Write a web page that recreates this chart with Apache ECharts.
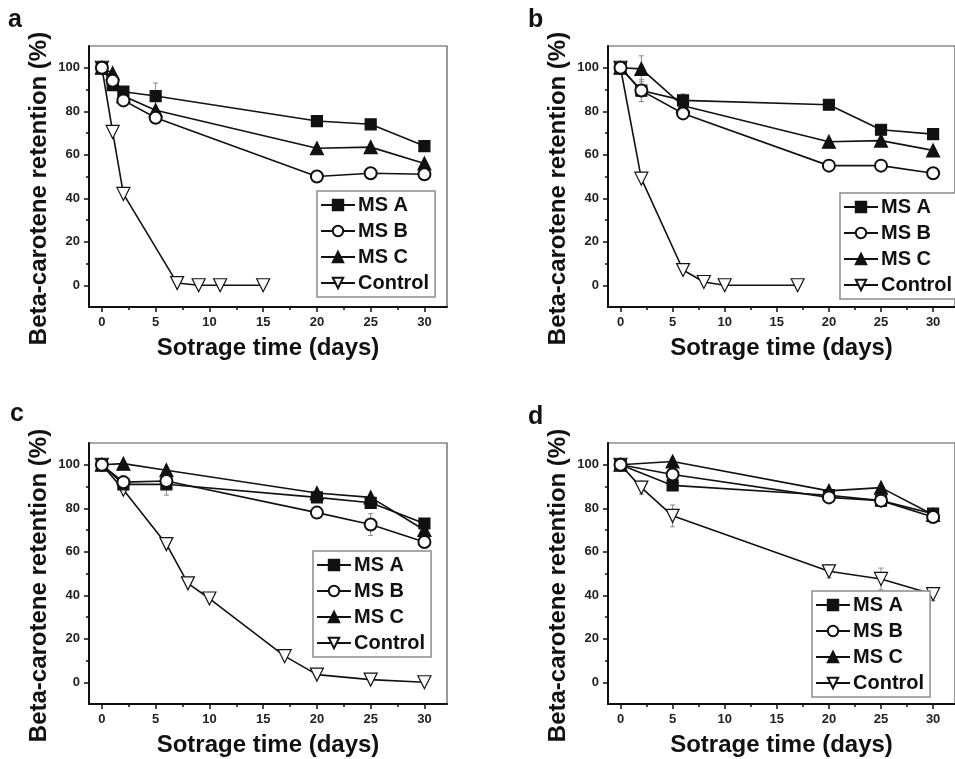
<!DOCTYPE html>
<html>
<head>
<meta charset="utf-8">
<script src="https://cdn.jsdelivr.net/npm/echarts@6/dist/echarts.min.js"></script>
<style>
  html, body { margin: 0; padding: 0; background: #fff; }
  #chart { width: 955px; height: 759px; }
</style>
</head>
<body>
<div id="chart"></div>
<script>
// ---- data ----
const seriesNames = ["MS A", "MS B", "MS C", "Control"];
const yTicks = [0, 20, 40, 60, 80, 100];
const yMinorTicks = [10, 30, 50, 70, 90];
const xTicks = [0, 5, 10, 15, 20, 25, 30];
const xMinorTicks = [2.5, 7.5, 12.5, 17.5, 22.5, 27.5];

// panel a
const aDaysMS = [0, 1, 2, 5, 20, 25, 30];
const aMSA = [100, 92, 89, 87, 75.5, 74, 64];
const aMSB = [100, 94, 85, 77, 50, 51.5, 51];
const aMSC = [100, 97.5, 87, 80.5, 63, 63.5, 56];
const aDaysCtrl = [0, 1, 2, 7, 9, 11, 15];
const aCtrl = [100, 70.5, 42, 1, 0, 0, 0];
const aErr = [[5, 87, 6]];

// panel b
const bDaysMS = [0, 2, 6, 20, 25, 30];
const bMSA = [100, 89.5, 85, 83, 71.5, 69.5];
const bMSB = [100, 89.5, 79, 55, 55, 51.5];
const bMSC = [100, 99.5, 82.5, 66, 66.5, 62];
const bDaysCtrl = [0, 2, 6, 8, 10, 17];
const bCtrl = [100, 49, 7, 1.5, 0, 0];
const bErr = [[2, 99.5, 6], [6, 85, 3], [2, 89.5, 5]];

// panel c
const cDaysMS = [0, 2, 6, 20, 25, 30];
const cMSA = [100, 91, 91, 85, 82.5, 73];
const cMSB = [100, 92, 92.5, 78, 72.5, 64.5];
const cMSC = [100, 100.5, 97.5, 87, 85, 70];
const cDaysCtrl = [0, 2, 6, 8, 10, 17, 20, 25, 30];
const cCtrl = [100, 88.5, 63.5, 45.5, 38.5, 12, 3.5, 1.2, 0];
const cErr = [[6, 91, 5], [25, 72.5, 5], [2, 92, 3]];

// panel d
const dDaysMS = [0, 5, 20, 25, 30];
const dMSA = [100, 90.5, 86, 83.5, 77.5];
const dMSB = [100, 95.5, 85, 83.5, 76];
const dMSC = [100, 101.5, 88, 89.5, 77];
const dDaysCtrl = [0, 2, 5, 20, 25, 30];
const dCtrl = [100, 89.5, 76.5, 51, 47.5, 40.5];
const dErr = [[2, 89.5, 3], [5, 76.5, 5], [20, 51, 3], [25, 47.5, 5], [30, 40.5, 3]];

const panels = [
  { letter: "a", days: aDaysMS, ms: [aMSA, aMSB, aMSC], ctrlDays: aDaysCtrl, ctrl: aCtrl, err: aErr },
  { letter: "b", days: bDaysMS, ms: [bMSA, bMSB, bMSC], ctrlDays: bDaysCtrl, ctrl: bCtrl, err: bErr },
  { letter: "c", days: cDaysMS, ms: [cMSA, cMSB, cMSC], ctrlDays: cDaysCtrl, ctrl: cCtrl, err: cErr },
  { letter: "d", days: dDaysMS, ms: [dMSA, dMSB, dMSC], ctrlDays: dDaysCtrl, ctrl: dCtrl, err: dErr },
];

// ---- layout ----
const FONT = "'Liberation Sans', Arial, sans-serif";
const grids = [
  { left: 89, right: 508, top: 46, bottom: 452 },
  { left: 608, right: -11, top: 46, bottom: 452 },
  { left: 89, right: 508, top: 443, bottom: 55 },
  { left: 608, right: -11, top: 443, bottom: 55 },
];
const legendPos = [
  { left: 317, top: 191 },
  { left: 840, top: 193 },
  { left: 313, top: 551 },
  { left: 812, top: 591 },
];
const letterPos = [[8, 8], [528, 8], [10, 402], [528, 405]];

// marker style per MS series, and the order they are stacked (A lowest, B on top)
const symbols = [
  { symbol: "rect", size: 11, z: 3 },
  { symbol: "emptyCircle", size: 12, z: 5 },
  { symbol: "triangle", size: 13, z: 4 },
];

const xAxes = [], yAxes = [], series = [], legends = [], graphics = [];

panels.forEach((p, i) => {
  const common = { gridIndex: i, min: -1.2, max: 32.1, type: "value" };
  xAxes.push({
    ...common, position: "bottom",
    name: "Sotrage time (days)", nameLocation: "middle", nameGap: 29,
    nameTextStyle: { fontFamily: FONT, fontSize: 24, fontWeight: "bold", color: "#111" },
    axisLine: { onZero: false, lineStyle: { color: "#111", width: 2 } },
    axisTick: { customValues: xTicks, length: 5, lineStyle: { color: "#111", width: 1.5 } },
    axisLabel: { customValues: xTicks, margin: 9, fontFamily: FONT, fontSize: 13, fontWeight: "bold", color: "#222" },
    splitLine: { show: false },
  });
  xAxes.push({
    ...common, position: "bottom",
    axisLine: { show: false, onZero: false },
    axisTick: { customValues: xMinorTicks, length: 3, lineStyle: { color: "#111", width: 1.5 } },
    axisLabel: { show: false },
    splitLine: { show: false },
  });
  const ycommon = { gridIndex: i, min: -10, max: 110, type: "value" };
  yAxes.push({
    ...ycommon, position: "left",
    name: "Beta-carotene retention (%)", nameLocation: "middle", nameGap: 38,
    nameTextStyle: { fontFamily: FONT, fontSize: 24, fontWeight: "bold", color: "#111", padding: [0, 24, 0, 0] },
    axisLine: { onZero: false, lineStyle: { color: "#111", width: 2 } },
    axisTick: { customValues: yTicks, length: 5, lineStyle: { color: "#111", width: 1.5 } },
    axisLabel: { customValues: yTicks, margin: 9, fontFamily: FONT, fontSize: 13, fontWeight: "bold", color: "#222" },
    splitLine: { show: false },
  });
  yAxes.push({
    ...ycommon, position: "left",
    axisLine: { show: false, onZero: false },
    axisTick: { customValues: yMinorTicks, length: 3, lineStyle: { color: "#111", width: 1.5 } },
    axisLabel: { show: false },
    splitLine: { show: false },
  });

  const xi = 2 * i, yi = 2 * i;

  // error bars (drawn beneath the lines)
  series.push({
    type: "custom",
    xAxisIndex: xi, yAxisIndex: yi,
    data: p.err,
    encode: { x: 0, y: 1 },
    z: 1,
    silent: true,
    renderItem: (params, api) => {
      const x = api.value(0), y = api.value(1), e = api.value(2);
      const hi = api.coord([x, y + e]);
      const lo = api.coord([x, y - e]);
      const style = { stroke: "#8a8a8a", lineWidth: 1 };
      return {
        type: "group",
        children: [
          { type: "line", shape: { x1: hi[0], y1: hi[1], x2: lo[0], y2: lo[1] }, style },
          { type: "line", shape: { x1: hi[0] - 2.5, y1: hi[1], x2: hi[0] + 2.5, y2: hi[1] }, style },
          { type: "line", shape: { x1: lo[0] - 2.5, y1: lo[1], x2: lo[0] + 2.5, y2: lo[1] }, style },
        ],
      };
    },
  });

  [0, 1, 2].forEach((k) => {
    series.push({
      name: seriesNames[k],
      type: "line",
      xAxisIndex: xi, yAxisIndex: yi,
      data: p.days.map((d, j) => [d, p.ms[k][j]]),
      symbol: symbols[k].symbol,
      symbolSize: symbols[k].size,
      showAllSymbol: true,
      lineStyle: { color: "#111", width: 1.6 },
      itemStyle: { color: "#111", borderColor: "#111", borderWidth: 1.2 },
      z: symbols[k].z,
      animation: false,
    });
  });
  series.push({
    name: seriesNames[3],
    type: "line",
    xAxisIndex: xi, yAxisIndex: yi,
    data: p.ctrlDays.map((d, j) => [d, p.ctrl[j]]),
    symbol: "triangle",
    symbolRotate: 180,
    symbolSize: 13,
    showAllSymbol: true,
    lineStyle: { color: "#111", width: 1.6 },
    itemStyle: { color: "#fff", borderColor: "#111", borderWidth: 1.2 },
    z: 2,
    animation: false,
  });

  legends.push({
    orient: "vertical",
    left: legendPos[i].left, top: legendPos[i].top,
    data: seriesNames,
    itemWidth: 34, itemHeight: 13, itemGap: 6,
    padding: [4, 6, 4, 3],
    borderColor: "#8c8c8c", borderWidth: 1.5,
    backgroundColor: "#fff",
    selectedMode: false,
    textStyle: { fontFamily: FONT, fontSize: 20, fontWeight: "bold", color: "#111", lineHeight: 20, padding: [0, 0, 0, -2] },
  });

  graphics.push({
    type: "text",
    left: letterPos[i][0], top: letterPos[i][1],
    style: { text: p.letter, font: "bold 25px " + FONT, fill: "#111" },
  });
});

const chart = echarts.init(document.getElementById("chart"));
chart.setOption({
  animation: false,
  backgroundColor: "#fff",
  grid: grids.map((g) => ({ ...g, show: true, borderColor: "#555", borderWidth: 1.2, backgroundColor: "transparent" })),
  xAxis: xAxes,
  yAxis: yAxes,
  legend: legends,
  graphic: graphics,
  series: series,
});
</script>
</body>
</html>
